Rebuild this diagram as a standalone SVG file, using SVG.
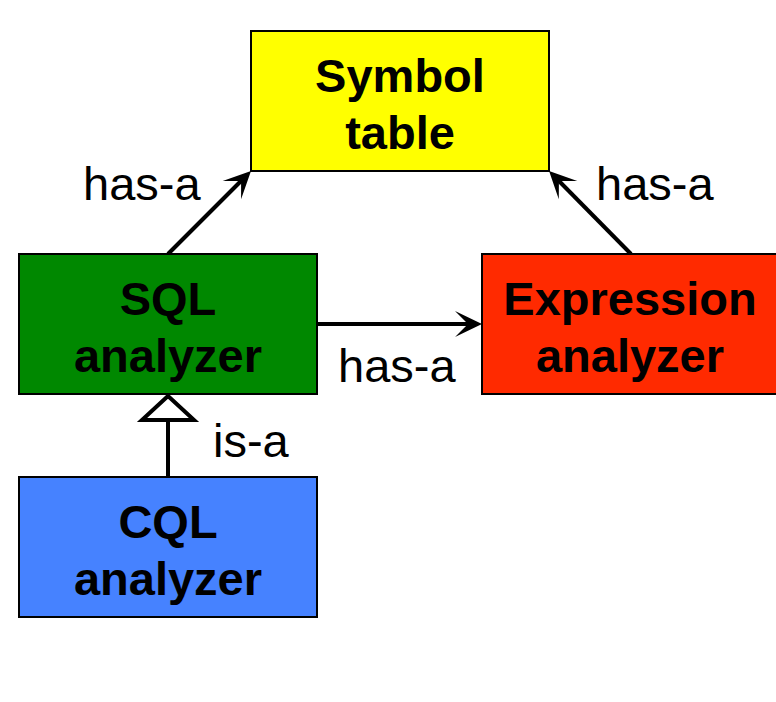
<svg xmlns="http://www.w3.org/2000/svg" width="776" height="702" viewBox="0 0 776 702">
<style>
.box{stroke:#000;stroke-width:2}
.t{font-family:"Liberation Sans",Arial,sans-serif;font-size:47px;font-weight:bold;text-anchor:middle;fill:#000}
.l{font-family:"Liberation Sans",Arial,sans-serif;font-size:47px;fill:#000}
.c{stroke:#000;stroke-width:4;fill:none}
</style>
<defs>
<marker id="arr" viewBox="-20 -16 36 32" refX="0" refY="0" markerWidth="36" markerHeight="32" markerUnits="userSpaceOnUse" orient="auto" overflow="visible">
<path d="M12,0 L-15,-13 L-2,0 L-15,13 Z" fill="#000"/>
</marker>
</defs>
<rect width="776" height="702" fill="#fff"/>
<g id="connectors">
<line class="c" x1="168" y1="254" x2="242.5" y2="179.5" marker-end="url(#arr)"/>
<line class="c" x1="631" y1="254" x2="557.5" y2="179.5" marker-end="url(#arr)"/>
<line class="c" x1="317" y1="324" x2="470" y2="324" marker-end="url(#arr)"/>
<line class="c" x1="168" y1="477" x2="168" y2="420"/>
<path d="M168,396 L194,420 L142,420 Z" fill="#fff" stroke="#000" stroke-width="4" stroke-linejoin="miter"/>
<text class="l" x="83" y="200">has-a</text>
<text class="l" x="596" y="200">has-a</text>
<text class="l" x="338" y="382">has-a</text>
<text class="l" x="213" y="457">is-a</text>
</g>
<g id="symbol-table">
<rect class="box" x="251" y="31" width="298" height="140" fill="#ffff00"/>
<text class="t" x="400" y="92">Symbol</text>
<text class="t" x="400" y="149">table</text>
</g>
<g id="sql-analyzer">
<rect class="box" x="19" y="254" width="298" height="140" fill="#008800"/>
<text class="t" x="168" y="315">SQL</text>
<text class="t" x="168" y="372">analyzer</text>
</g>
<g id="expression-analyzer">
<rect class="box" x="482" y="254" width="298" height="140" fill="#ff2a00"/>
<text class="t" x="630" y="315">Expression</text>
<text class="t" x="630" y="372">analyzer</text>
</g>
<g id="cql-analyzer">
<rect class="box" x="19" y="477" width="298" height="140" fill="#4682ff"/>
<text class="t" x="168" y="538">CQL</text>
<text class="t" x="168" y="595">analyzer</text>
</g>
</svg>
